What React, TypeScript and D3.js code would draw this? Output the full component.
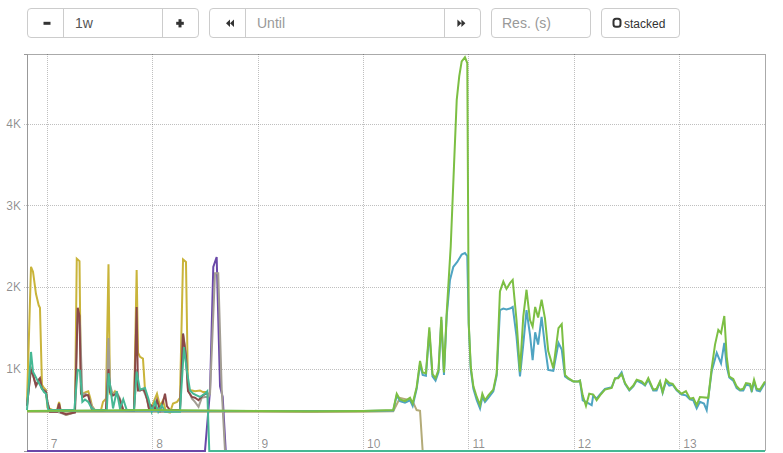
import React from 'react';
import * as d3 from 'd3';

// ---------- data ----------
const dayTicks = [7, 8, 9, 10, 11, 12, 13];
const dayTickLabels = ['7', '8', '9', '10', '11', '12', '13'];
const yTicks = [1000, 2000, 3000, 4000];
const yTickLabels = ['1K', '2K', '3K', '4K'];
const timeDomain = [6.813, 13.813];
const valueDomain = [0, 4850];

type Pt = [number, number];

const khakiSeries: Pt[] = [
  [6.813, 480], [8.7, 480], [9.5, 475], [10.0, 480], [10.287, 485], [10.351, 650], [10.382, 640],
  [10.414, 630], [10.446, 620], [10.477, 590], [10.509, 500], [10.541, 490], [10.566, 0],
];

const purpleSeries: Pt[] = [
  [6.813, 0], [8.501, 0], [8.549, 740], [8.58, 2250], [8.612, 2370], [8.644, 790], [8.669, 660], [8.698, 0],
];

const yellowSeries: Pt[] = [
  [6.813, 600], [6.851, 2250], [6.87, 2190], [6.898, 1920], [6.924, 1780], [6.936, 1750], [6.955, 810],
  [6.974, 770], [6.993, 745], [7.007, 530], [7.06, 500], [7.098, 500], [7.117, 600], [7.135, 480],
  [7.183, 440], [7.25, 470], [7.268, 480], [7.285, 2350], [7.311, 2320], [7.325, 720], [7.345, 700],
  [7.37, 720], [7.394, 730], [7.412, 650], [7.43, 550], [7.458, 500], [7.486, 490], [7.515, 500],
  [7.534, 600], [7.562, 640], [7.586, 2280], [7.6, 700], [7.62, 680], [7.647, 730], [7.67, 680],
  [7.69, 630], [7.71, 500], [7.79, 490], [7.828, 500], [7.853, 2210], [7.866, 1200], [7.885, 1150],
  [7.913, 1130], [7.932, 750], [7.951, 650], [7.97, 530], [7.989, 500], [8.008, 580], [8.046, 700],
  [8.075, 550], [8.103, 620], [8.131, 480], [8.169, 470], [8.198, 580], [8.236, 600], [8.264, 650],
  [8.293, 2340], [8.321, 2310], [8.34, 745], [8.378, 740], [8.406, 730], [8.454, 740], [8.482, 720],
  [8.511, 720], [8.533, 700],
];

const graySeries: Pt[] = [
  [6.813, 550], [6.851, 1030], [6.87, 930], [6.898, 790], [6.924, 860], [6.955, 760], [6.993, 730],
  [7.007, 600], [7.03, 480], [7.098, 480], [7.145, 460], [7.183, 440], [7.268, 470], [7.294, 1720],
  [7.316, 1540], [7.338, 680], [7.363, 700], [7.394, 680], [7.427, 550], [7.458, 490], [7.562, 500],
  [7.586, 1380], [7.6, 810], [7.629, 680], [7.664, 720], [7.695, 640], [7.726, 500], [7.828, 490],
  [7.853, 1000], [7.866, 760], [7.885, 740], [7.913, 750], [7.932, 700], [7.951, 630], [7.97, 510],
  [8.008, 540], [8.046, 520], [8.075, 480], [8.169, 480], [8.264, 500], [8.293, 1440], [8.321, 1200],
  [8.34, 750], [8.378, 640], [8.406, 600], [8.44, 540], [8.47, 650], [8.501, 660], [8.533, 660],
  [8.549, 700], [8.596, 2170], [8.627, 2170], [8.66, 750], [8.691, 0],
];

const brownSeries: Pt[] = [
  [6.813, 550], [6.851, 1000], [6.87, 930], [6.898, 800], [6.924, 870], [6.936, 890], [6.955, 760],
  [6.993, 720], [7.007, 600], [7.03, 480], [7.098, 480], [7.117, 580], [7.135, 470], [7.183, 450],
  [7.268, 470], [7.294, 1750], [7.311, 1650], [7.325, 700], [7.345, 660], [7.37, 680], [7.394, 680],
  [7.412, 580], [7.43, 500], [7.534, 490], [7.562, 500], [7.586, 1000], [7.6, 720], [7.629, 680],
  [7.664, 700], [7.695, 620], [7.726, 500], [7.828, 490], [7.853, 1760], [7.866, 740], [7.885, 740],
  [7.913, 760], [7.932, 720], [7.951, 640], [7.97, 520], [7.989, 560], [8.027, 520], [8.046, 620],
  [8.075, 500], [8.103, 600], [8.122, 700], [8.14, 550], [8.169, 500], [8.264, 500], [8.293, 1430],
  [8.321, 1150], [8.34, 730], [8.378, 660], [8.406, 650], [8.44, 620], [8.482, 680], [8.511, 700],
  [8.533, 700],
];

const tealSeries: Pt[] = [
  [6.813, 500], [6.851, 1210], [6.87, 970], [6.898, 900], [6.924, 830], [6.936, 810], [6.955, 760],
  [6.974, 720], [6.993, 700], [7.015, 500], [7.262, 500], [7.294, 990], [7.316, 980], [7.338, 600],
  [7.363, 630], [7.394, 600], [7.427, 520], [7.458, 500], [7.57, 500], [7.586, 950], [7.629, 520],
  [7.664, 730], [7.695, 520], [7.726, 630], [7.759, 500], [7.828, 500], [7.853, 970], [7.885, 750],
  [7.932, 770], [7.964, 640], [7.996, 480], [8.027, 600], [8.058, 480], [8.091, 560], [8.122, 480],
  [8.264, 480], [8.302, 1270], [8.328, 990], [8.359, 740], [8.39, 700], [8.422, 680], [8.454, 660],
  [8.501, 700], [8.523, 730], [8.542, 0], [13.813, 0],
];

const blueSeries: Pt[] = [
  [6.813, 488], [8.0, 492], [9.0, 488], [10.0, 488], [10.287, 495], [10.32, 680], [10.351, 610],
  [10.398, 590], [10.446, 620], [10.471, 550], [10.509, 760], [10.541, 1060], [10.566, 930],
  [10.597, 920], [10.629, 1460], [10.659, 910], [10.688, 860], [10.716, 960], [10.743, 1600],
  [10.768, 930], [10.794, 1650], [10.825, 2090], [10.857, 2250], [10.894, 2310], [10.936, 2400],
  [10.967, 2420], [10.989, 2380], [11.003, 1540], [11.022, 1000], [11.047, 760], [11.079, 620],
  [11.11, 520], [11.132, 660], [11.157, 600], [11.189, 650], [11.236, 730], [11.268, 920],
  [11.299, 1720], [11.331, 1740], [11.361, 1730], [11.394, 1740], [11.42, 1760], [11.456, 1400],
  [11.489, 910], [11.52, 1300], [11.551, 1720], [11.584, 1420], [11.609, 1110], [11.633, 1450],
  [11.661, 1300], [11.694, 1640], [11.726, 1280], [11.757, 990], [11.805, 980], [11.854, 1320],
  [11.885, 1240], [11.916, 910], [11.947, 880], [11.995, 850], [12.042, 850], [12.058, 860],
  [12.084, 620], [12.115, 600], [12.169, 560], [12.184, 680], [12.216, 640], [12.248, 690],
  [12.295, 760], [12.359, 780], [12.39, 880], [12.421, 900], [12.453, 960], [12.485, 820],
  [12.526, 740], [12.564, 790], [12.596, 860], [12.643, 830], [12.675, 800], [12.706, 870],
  [12.753, 740], [12.785, 740], [12.817, 840], [12.842, 710], [12.874, 850], [12.905, 800],
  [12.937, 810], [12.975, 740], [13.022, 690], [13.063, 680], [13.101, 630], [13.133, 620],
  [13.165, 520], [13.196, 600], [13.234, 580], [13.26, 500], [13.307, 970], [13.355, 1200],
  [13.396, 1070], [13.427, 1320], [13.45, 1030], [13.474, 900], [13.512, 860], [13.544, 770],
  [13.576, 740], [13.607, 740], [13.633, 810], [13.671, 800], [13.687, 720], [13.709, 850],
  [13.734, 740], [13.765, 730], [13.813, 830],
];

const greenSeries: Pt[] = [
  [6.813, 490], [7.5, 495], [8.0, 500], [8.5, 495], [9.0, 490], [9.5, 485], [10.0, 490], [10.287, 500],
  [10.32, 700], [10.351, 630], [10.398, 610], [10.446, 650], [10.471, 580], [10.509, 780],
  [10.541, 1100], [10.566, 960], [10.597, 950], [10.629, 1510], [10.659, 940], [10.688, 890],
  [10.716, 990], [10.743, 1640], [10.768, 960], [10.794, 1690], [10.832, 2500], [10.863, 3480],
  [10.889, 4290], [10.913, 4580], [10.936, 4760], [10.967, 4810], [10.989, 4740], [11.003, 1560],
  [11.022, 1030], [11.047, 790], [11.079, 660], [11.11, 560], [11.132, 700], [11.157, 620],
  [11.189, 680], [11.236, 750], [11.268, 950], [11.299, 1950], [11.331, 2070], [11.361, 1980],
  [11.394, 2050], [11.42, 2090], [11.456, 1600], [11.489, 970], [11.52, 1640], [11.551, 1970],
  [11.584, 1600], [11.609, 1520], [11.633, 1760], [11.661, 1630], [11.694, 1850], [11.726, 1620],
  [11.757, 1220], [11.805, 1010], [11.854, 1500], [11.885, 1550], [11.916, 930], [11.947, 890],
  [11.995, 850], [12.042, 850], [12.058, 860], [12.084, 680], [12.115, 550], [12.146, 700],
  [12.184, 690], [12.216, 620], [12.248, 680], [12.295, 750], [12.359, 770], [12.39, 890],
  [12.421, 890], [12.453, 940], [12.485, 830], [12.526, 750], [12.564, 800], [12.596, 870],
  [12.643, 850], [12.675, 810], [12.706, 890], [12.753, 750], [12.785, 760], [12.817, 850],
  [12.842, 720], [12.874, 870], [12.905, 830], [12.937, 820], [12.975, 750], [13.022, 700],
  [13.063, 730], [13.101, 640], [13.133, 650], [13.165, 560], [13.196, 660], [13.275, 650],
  [13.307, 1010], [13.339, 1300], [13.37, 1480], [13.396, 1440], [13.427, 1650], [13.45, 1150],
  [13.474, 910], [13.512, 880], [13.544, 790], [13.576, 750], [13.607, 760], [13.633, 830],
  [13.671, 820], [13.687, 750], [13.709, 870], [13.734, 760], [13.765, 750], [13.813, 850],
];

// draw order: first is bottom-most
const seriesData = [khakiSeries, purpleSeries, yellowSeries, graySeries, brownSeries, tealSeries, blueSeries, greenSeries];
const seriesColors = ['#b3ab78', '#6a48a8', '#c9b43a', '#a39e93', '#8a4848', '#45b894', '#4fa4c2', '#7cbf43'];

// ---------- layout ----------
const W = 783;
const H = 453;
const plot = { left: 27, right: 765, top: 54, bottom: 451 };
const FONT = '"Liberation Sans", Arial, Helvetica, sans-serif';

function Group({ x0, x1, dividers }: { x0: number; x1: number; dividers: number[] }) {
  const y0 = 8.5, y1 = 37.5;
  return (
    <g>
      <rect x={x0} y={y0} width={x1 - x0} height={y1 - y0} rx={3.5} fill="#fff" stroke="#ccc" />
      {dividers.map((d) => (
        <line key={d} x1={d} x2={d} y1={y0} y2={y1} stroke="#ccc" />
      ))}
    </g>
  );
}

export default function App() {
  const x = d3.scaleLinear().domain(timeDomain).range([plot.left, plot.right]);
  const y = d3.scaleLinear().domain(valueDomain).range([plot.bottom, plot.top]);
  const line = d3
    .line<Pt>()
    .x((d) => x(d[0]))
    .y((d) => y(d[1]));

  return (
    <div style={{ position: 'absolute', left: 0, top: 0, width: W, height: H, background: '#fff' }}>
      <svg width={W} height={H} style={{ display: 'block', fontFamily: FONT }}>
        {/* toolbar */}
        <Group x0={27.5} x1={198.5} dividers={[63.5, 162.5]} />
        <rect x={43.5} y={21.8} width={7} height={3} fill="#333" />
        <text x={75} y={28} fontSize={14} fill="#555">1w</text>
        <rect x={176.2} y={21.8} width={7.6} height={3} fill="#333" />
        <rect x={178.5} y={19.2} width={3} height={8.2} fill="#333" />

        <Group x0={209.5} x1={480.5} dividers={[245.5, 444.5]} />
        <path d="M226,23.3 L230,19.6 L230,27 Z M230,23.3 L234,19.6 L234,27 Z" fill="#333" />
        <text x={257} y={28} fontSize={14} fill="#999">Until</text>
        <path d="M465.4,23.3 L461.4,19.6 L461.4,27 Z M461.4,23.3 L457.4,19.6 L457.4,27 Z" fill="#333" />

        <Group x0={491.5} x1={590.5} dividers={[]} />
        <text x={502} y={28} fontSize={14} fill="#999">Res. (s)</text>

        <Group x0={601.5} x1={679.5} dividers={[]} />
        <rect x={613.5} y={18.8} width={7} height={8} rx={2.5} fill="none" stroke="#333" strokeWidth={2} />
        <text x={624} y={27.5} fontSize={12} fill="#333">stacked</text>

        {/* frame */}
        <line x1={plot.left} x2={plot.right} y1={plot.top + 0.5} y2={plot.top + 0.5} stroke="#aaa" />
        <line x1={plot.right + 0.5} x2={plot.right + 0.5} y1={plot.top} y2={plot.bottom} stroke="#aaa" />

        {/* y grid */}
        {yTicks.map((t, i) => (
          <g key={t}>
            <line
              x1={plot.left - 3}
              x2={plot.right}
              y1={Math.round(y(t)) + 0.5}
              y2={Math.round(y(t)) + 0.5}
              stroke="#000"
              strokeOpacity={0.25}
              strokeDasharray="1,1"
            />
            <text
              x={plot.left - 6}
              y={y(t)}
              dy="0.35em"
              textAnchor="end"
              fontSize={12}
              fill="#000"
              fillOpacity={0.45}
            >
              {yTickLabels[i]}
            </text>
          </g>
        ))}

        {/* x grid */}
        {dayTicks.map((t, i) => (
          <g key={t}>
            <line
              x1={Math.round(x(t)) + 0.5}
              x2={Math.round(x(t)) + 0.5}
              y1={plot.top}
              y2={plot.bottom}
              stroke="#000"
              strokeOpacity={0.25}
              strokeDasharray="1,1"
            />
            <text x={x(t) + 4} y={447.5} fontSize={12} fill="#000" fillOpacity={0.45}>
              {dayTickLabels[i]}
            </text>
          </g>
        ))}

        {/* y axis */}
        <path
          d={`M${plot.left - 3},${plot.top + 0.5}H${plot.left + 0.5}V${plot.bottom + 0.5}H${plot.left - 3}`}
          fill="none"
          stroke="#999"
        />

        {/* series */}
        {seriesData.map((s, i) => (
          <path key={i} d={line(s) || ''} fill="none" stroke={seriesColors[i]} strokeWidth={2} />
        ))}
      </svg>
    </div>
  );
}
